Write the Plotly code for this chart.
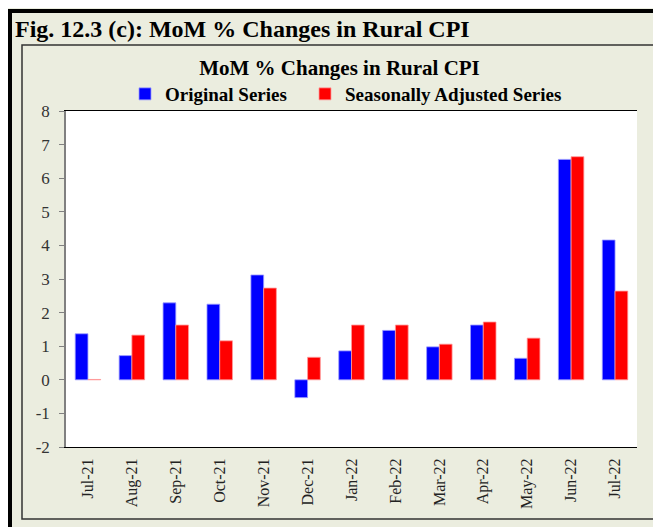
import plotly.graph_objects as go

months = ["Jul-21", "Aug-21", "Sep-21", "Oct-21", "Nov-21", "Dec-21", "Jan-22",
          "Feb-22", "Mar-22", "Apr-22", "May-22", "Jun-22", "Jul-22"]
original = [1.37, 0.72, 2.29, 2.25, 3.12, -0.53, 0.86, 1.47, 0.98, 1.63, 0.64, 6.56, 4.16]
seasonal = [0.01, 1.33, 1.63, 1.16, 2.73, 0.67, 1.63, 1.63, 1.06, 1.72, 1.24, 6.64, 2.64]
y_ticks = [-2, -1, 0, 1, 2, 3, 4, 5, 6, 7, 8]

# the page body adds an 8px margin; positions below are screen pixels, converted
OFF = 8
W, H = 661, 527
PL, PR, PT, PB = 66, 637, 111, 447  # plot area on screen
L, R, T, B = PL - OFF, W - (PR - OFF), PT - OFF, H - (PB - OFF)
PW, PH = PR - PL, PB - PT
BEIGE = "#EBEDDF"
FONT = "Liberation Serif"


def px(x):
    return (x - PL) / PW


def py(y):
    return (PB - y) / PH


fig = go.Figure()
fig.add_trace(go.Bar(x=months, y=original, name="<b>Original Series</b>", legend="legend",
                     marker=dict(color="#0000FF", line=dict(color="#9A9AFF", width=0.8))))
fig.add_trace(go.Bar(x=months, y=seasonal, name="<b>Seasonally Adjusted Series</b>", legend="legend2",
                     marker=dict(color="#FF0000", line=dict(color="#FF9A9A", width=0.8))))

n = len(months)
boundaries = [i + 0.5 for i in range(n - 1)]

shapes = [
    dict(type="rect", xref="paper", yref="paper", x0=px(10), x1=px(W + 30), y0=py(11), y1=py(H + 30),
         line=dict(color="black", width=4), layer="below"),
    dict(type="rect", xref="paper", yref="paper", x0=px(22), x1=px(657), y0=py(45), y1=py(519),
         line=dict(color="#333333", width=1.5), layer="below"),
]

legend_common = dict(orientation="h", xref="paper", yref="paper", xanchor="left", yanchor="middle",
                     bgcolor="rgba(0,0,0,0)", font=dict(size=19, family=FONT, color="black"),
                     itemwidth=30)

fig.update_layout(
    width=W, height=H,
    margin=dict(l=L, r=R, t=T, b=B, pad=0, autoexpand=False),
    paper_bgcolor=BEIGE,
    plot_bgcolor="white",
    barmode="group",
    bargap=0.42,
    bargroupgap=0,
    font=dict(family=FONT, color="#222222"),
    title=dict(text="<b>MoM % Changes in Rural CPI</b>", xref="container", yref="container",
               x=(339.5 - OFF) / W, y=1 - (68 - OFF) / H, xanchor="center", yanchor="middle",
               font=dict(size=21, family=FONT, color="black")),
    legend=dict(x=px(125), y=py(94), **legend_common),
    legend2=dict(x=px(305), y=py(94), **legend_common),
    xaxis=dict(type="category", showline=True, linecolor="black", linewidth=1, mirror=True,
               ticks="", showgrid=False, tickangle=-90, automargin=False, ticklabelstandoff=4,
               tickfont=dict(size=16, family=FONT, color="#222222")),
    xaxis2=dict(overlaying="x", anchor="free", position=py(380), type="linear",
                range=[-0.5, n - 0.5], tickvals=boundaries, ticks="outside", ticklen=5,
                tickcolor="#808080", showline=True, linecolor="#808080", linewidth=1.5,
                showticklabels=False, showgrid=False, zeroline=False, automargin=False),
    yaxis=dict(range=[-2, 8], tickvals=y_ticks, ticktext=[str(v) for v in y_ticks],
               showgrid=False, zeroline=False, automargin=False, ticklabelstandoff=6,
               showline=True, linecolor="#808080", linewidth=1.5,
               ticks="outside", ticklen=5, tickcolor="#808080",
               tickfont=dict(size=17, family=FONT, color="#333333")),
    yaxis2=dict(overlaying="y", side="right", range=[-2, 8], showline=True, linecolor="black",
                linewidth=1, ticks="", showticklabels=False, showgrid=False, zeroline=False,
                automargin=False),
    shapes=shapes,
    annotations=[dict(text="<b>Fig. 12.3 (c): MoM % Changes in Rural CPI</b>", xref="paper", yref="paper",
                      x=px(13), y=py(29), xanchor="left", yanchor="middle", showarrow=False,
                      font=dict(size=24, family=FONT, color="black"))],
    showlegend=True,
)

fig.write_html("out.html")
